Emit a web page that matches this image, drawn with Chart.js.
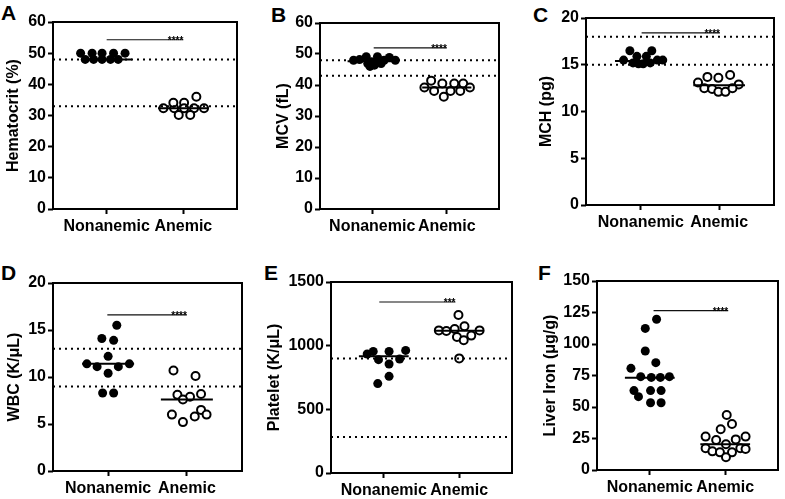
<!DOCTYPE html>
<html lang="en">
<head>
<meta charset="UTF-8">
<title>Nonanemic vs Anemic</title>
<script src="https://cdn.jsdelivr.net/npm/chart.js"></script>
<style>
  body { margin: 0; background: #fff; width: 785px; height: 499px; position: relative; overflow: hidden; }
  canvas { position: absolute; }
  .letter { position: absolute; font: bold 21px "Liberation Sans", Arial, sans-serif; line-height: 21px; color: #000; }
</style>
</head>
<body>
<div class="letter" style="left:1px;top:2px">A</div>
<div class="letter" style="left:271px;top:4px">B</div>
<div class="letter" style="left:533px;top:4px">C</div>
<div class="letter" style="left:1px;top:262px">D</div>
<div class="letter" style="left:264px;top:262px">E</div>
<div class="letter" style="left:538px;top:262px">F</div>

<canvas id="chartA"></canvas>
<canvas id="chartB"></canvas>
<canvas id="chartC"></canvas>
<canvas id="chartD"></canvas>
<canvas id="chartE"></canvas>
<canvas id="chartF"></canvas>

<script>
const groups = ['Nonanemic', 'Anemic'];

// A - hematocrit (%)
const hctTicks = [0, 10, 20, 30, 40, 50, 60];
const hctNon = [50, 50, 50, 50, 50, 48, 48, 48, 48, 48];
const hctNonX = [-0.34, -0.19, -0.06, 0.09, 0.24, -0.28, -0.17, -0.06, 0.05, 0.15];
const hctAne = [32.3, 32.3, 34.1, 34.1, 36.0, 32.3, 32.3, 32.3, 30.2, 30.2];
const hctAneX = [-0.26, -0.12, -0.13, 0.01, 0.17, 0.01, 0.14, 0.27, -0.06, 0.09];
const hctMedian = [48, 32.3];
const hctRef = [48, 33];

// B - MCV (fL)
const mcvTicks = [0, 10, 20, 30, 40, 50, 60];
const mcvNon = [48.0, 48.2, 49.1, 46.9, 46.4, 49.1, 46.9, 48.0, 48.9, 48.0, 47.5, 46.0];
const mcvNonX = [-0.25, -0.17, -0.08, -0.06, 0.03, 0.07, 0.12, 0.16, 0.23, 0.31, -0.01, -0.03];
const mcvAne = [39.2, 41.4, 38.1, 40.5, 36.2, 38.1, 40.5, 38.1, 40.5, 39.2];
const mcvAneX = [-0.30, -0.21, -0.17, -0.06, -0.04, 0.05, 0.10, 0.18, 0.22, 0.31];
const mcvMedian = [47.7, 39.2];
const mcvRef = [48, 43];

// C - MCH (pg)
const mchTicks = [0, 5, 10, 15, 20];
const mchNon = [16.5, 16.5, 15.9, 15.9, 15.5, 15.5, 15.5, 15.1, 15.1, 15.2, 15.2];
const mchNonX = [-0.14, 0.14, -0.05, 0.07, -0.22, 0.21, 0.28, -0.03, 0.03, -0.10, 0.12];
const mchAne = [13.1, 13.7, 13.6, 13.9, 12.9, 12.5, 12.4, 12.1, 12.1, 12.5];
const mchAneX = [-0.27, -0.15, -0.01, 0.14, 0.25, -0.19, -0.09, -0.01, 0.08, 0.17];
const mchMedian = [15.4, 12.8];
const mchRef = [18, 15];

// D - WBC (K/uL)
const wbcTicks = [0, 5, 10, 15, 20];
const wbcNon = [15.5, 14.1, 13.9, 12.2, 11.4, 11.1, 11.1, 11.4, 10.4, 8.3, 8.3];
const wbcNonX = [0.11, -0.08, 0.07, 0.0, -0.27, -0.14, 0.13, 0.27, 0.0, -0.07, 0.07];
const wbcAne = [10.7, 10.1, 8.1, 7.9, 7.6, 8.2, 6.0, 6.5, 6.0, 5.8, 5.2];
const wbcAneX = [-0.17, 0.11, -0.12, 0.04, -0.05, 0.18, -0.19, 0.18, 0.25, 0.10, -0.05];
const wbcMedian = [11.4, 7.6];
const wbcRef = [13, 9];

// E - platelet (K/uL)
const pltTicks = [0, 500, 1000, 1500];
const pltNon = [935, 955, 890, 955, 856, 759, 702, 895, 963];
const pltNonX = [-0.22, -0.14, -0.07, 0.07, 0.07, 0.07, -0.08, 0.21, 0.29];
const pltAne = [1241, 1120, 1115, 1131, 1152, 1120, 1068, 1042, 1079, 900];
const pltAneX = [-0.01, -0.27, -0.17, -0.06, 0.07, 0.27, -0.03, 0.06, 0.16, 0.0];
const pltMedian = [916, 1118];
const pltRef = [900, 283];

// F - liver iron (ug/g)
const feTicks = [0, 25, 50, 75, 100, 125, 150];
const feNon = [119.6, 112.4, 94.4, 85.2, 80.7, 74.1, 73.5, 73.5, 74.1, 63.0, 63.0, 63.0, 58.2, 53.4, 53.4];
const feNonX = [0.09, -0.06, -0.06, 0.08, -0.25, -0.12, 0.02, 0.14, 0.26, -0.21, 0.01, 0.15, -0.15, 0.01, 0.15];
const feAne = [43.7, 36.5, 32.3, 26.5, 23.8, 24.3, 26.5, 20.4, 17.2, 14.8, 14.0, 14.0, 17.2, 16.7, 10.1];
const feAneX = [0.02, 0.09, -0.06, -0.26, -0.12, 0.14, 0.27, 0.01, -0.26, -0.17, -0.07, 0.09, 0.20, 0.27, 0.01];
const feMedian = [73.3, 20.4];
const feRef = [];

// significance bars (A..F)
const sigY = [54.3, 52, 18.4, 16.6, 1343, 126.5];
const sigFrom = [0, 0.02, 0.01, -0.01, -0.06, 0.05];
const sigTo = [1, 1, 1.01, 1, 0.95, 1.04];
const sigStars = ['****', '****', '****', '****', '***', '****'];

const FONT = '"Liberation Sans", Arial, sans-serif';
Chart.defaults.font.family = FONT;
Chart.defaults.font.weight = 'bold';
Chart.defaults.font.size = 16;
Chart.defaults.color = '#000';

const panels = [
    { id: 'chartA', title: 'Hematocrit (%)', ticks: hctTicks, non: hctNon, nonX: hctNonX, ane: hctAne, aneX: hctAneX, median: hctMedian, refs: hctRef, box: [53, 22, 237, 209], titleX: 14 },
    { id: 'chartB', title: 'MCV (fL)', ticks: mcvTicks, non: mcvNon, nonX: mcvNonX, ane: mcvAne, aneX: mcvAneX, median: mcvMedian, refs: mcvRef, box: [320, 23, 499, 209], titleX: 284 },
    { id: 'chartC', title: 'MCH (pg)', ticks: mchTicks, non: mchNon, nonX: mchNonX, ane: mchAne, aneX: mchAneX, median: mchMedian, refs: mchRef, box: [586, 18, 774, 205], titleX: 547 },
    { id: 'chartD', title: 'WBC (K/μL)', ticks: wbcTicks, non: wbcNon, nonX: wbcNonX, ane: wbcAne, aneX: wbcAneX, median: wbcMedian, refs: wbcRef, box: [53, 283, 242, 471], titleX: 15 },
    { id: 'chartE', title: 'Platelet (K/μL)', ticks: pltTicks, non: pltNon, nonX: pltNonX, ane: pltAne, aneX: pltAneX, median: pltMedian, refs: pltRef, box: [331, 282, 512, 473], titleX: 275 },
    { id: 'chartF', title: 'Liver Iron (μg/g)', ticks: feTicks, non: feNon, nonX: feNonX, ane: feAne, aneX: feAneX, median: feMedian, refs: feRef, box: [597, 281, 778, 470], titleX: 551 }
];

const framePlugin = {
    id: 'frame',
    afterDatasetsDraw(chart, args, opts) {
        const { ctx, chartArea: a, scales } = chart;
        ctx.save();
        ctx.strokeStyle = '#000';
        ctx.lineWidth = 2;
        ctx.strokeRect(a.left, a.top, a.right - a.left, a.bottom - a.top);
        // stars over the significance bar
        ctx.fillStyle = '#000';
        ctx.font = 'bold 10px ' + FONT;
        ctx.textAlign = 'right';
        ctx.textBaseline = 'alphabetic';
        ctx.fillText(opts.stars, scales.x.getPixelForValue(opts.to), scales.y.getPixelForValue(opts.y) + 4);
        ctx.restore();
    }
};

function seg(x1, x2, y) {
    return [{ x: x1, y: y }, { x: x2, y: y }];
}

panels.forEach((p, k) => {
    const [L, T, R, B] = p.box;
    const left = Math.round(p.titleX - 9.6);
    const top = T - 20;
    const canvas = document.getElementById(p.id);
    canvas.width = R + 6 - left;
    canvas.height = B + 30 - top;
    canvas.style.left = left + 'px';
    canvas.style.top = top + 'px';

    const datasets = [];
    p.refs.forEach(r => datasets.push({
        data: seg(-0.7, 1.7, r), showLine: true, borderColor: '#000', borderWidth: 2,
        borderDash: [2, 4], pointRadius: 0, order: 1
    }));
    p.median.forEach((m, g) => datasets.push({
        data: seg(g - 0.33, g + 0.33, m), showLine: true, borderColor: '#000', borderWidth: 2,
        pointRadius: 0, order: 0
    }));
    datasets.push({
        data: seg(sigFrom[k], sigTo[k], sigY[k]), showLine: true, borderColor: '#111', borderWidth: 1.2,
        pointRadius: 0, order: 0
    });
    datasets.push({
        data: p.nonX.map((dx, i) => ({ x: 0 + dx, y: p.non[i] })),
        pointRadius: 4.5, backgroundColor: '#000', borderColor: '#000', borderWidth: 0, order: 2
    });
    datasets.push({
        data: p.aneX.map((dx, i) => ({ x: 1 + dx, y: p.ane[i] })),
        pointRadius: 4, backgroundColor: '#fff', borderColor: '#000', borderWidth: 2, order: 2
    });

    const axisGrid = { drawOnChartArea: false, drawTicks: true, tickLength: 5, tickWidth: 2, color: '#000', tickColor: '#000' };

    new Chart(canvas, {
        type: 'scatter',
        data: { datasets },
        plugins: [framePlugin],
        options: {
            responsive: false,
            animation: false,
            layout: { padding: { top: 20, right: 6, left: 0, bottom: 0 } },
            plugins: {
                legend: { display: false },
                tooltip: { enabled: false },
                frame: { y: sigY[k], to: sigTo[k], stars: sigStars[k] }
            },
            scales: {
                x: {
                    type: 'linear', min: -0.7, max: 1.7,
                    afterBuildTicks: s => { s.ticks = [{ value: 0 }, { value: 1 }]; },
                    afterFit: s => { s.height = 30; },
                    ticks: { callback: v => groups[v], padding: 3, maxRotation: 0, autoSkip: false },
                    grid: axisGrid,
                    border: { display: false }
                },
                y: {
                    min: p.ticks[0], max: p.ticks[p.ticks.length - 1],
                    afterBuildTicks: s => { s.ticks = p.ticks.map(v => ({ value: v })); },
                    afterFit: s => { s.width = L - left; },
                    ticks: { padding: 2, callback: v => String(v) },
                    grid: axisGrid,
                    border: { display: false },
                    title: { display: true, text: p.title, padding: { top: 0, bottom: 0 } }
                }
            }
        }
    });
});
</script>
</body>
</html>
